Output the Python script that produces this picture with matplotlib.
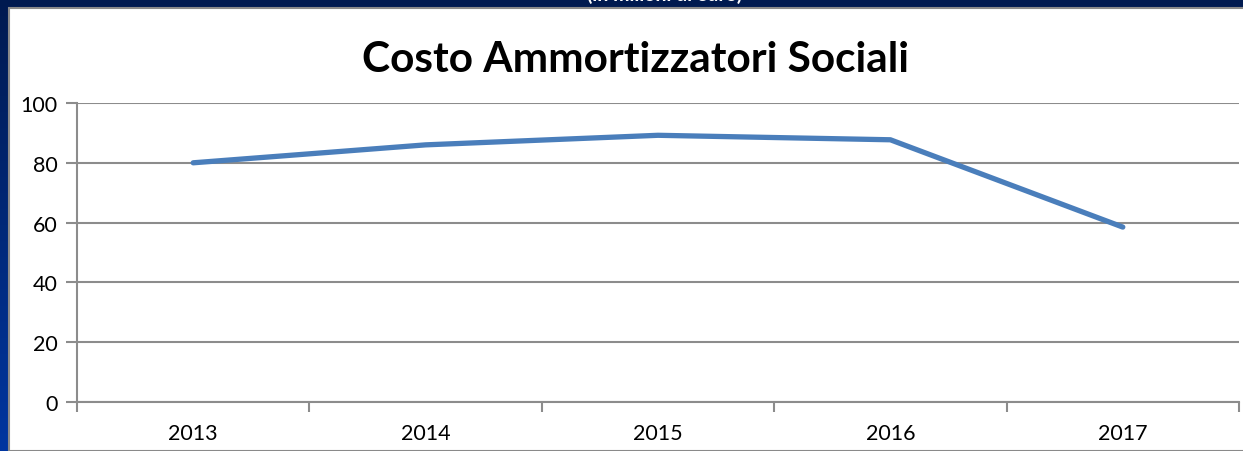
import numpy as np
import matplotlib
matplotlib.use("Agg")
from matplotlib import pyplot as plt
from matplotlib.patches import Rectangle

years = ["2013", "2014", "2015", "2016", "2017"]
costo = [80, 86, 89.2, 87.7, 58.5]
title = "Costo Ammortizzatori Sociali"
subtitle = "(in milioni di euro)"

W, H = 1243, 452
fig = plt.figure(figsize=(W / 100, H / 100), dpi=100)

# dark blue slide background with a vertical gradient
bg = fig.add_axes([0, 0, 1, 1])
grad = np.linspace(0, 1, 256).reshape(-1, 1)
cmap = matplotlib.colors.LinearSegmentedColormap.from_list("bg", ["#0036a0", "#001a50"])
bg.imshow(grad, aspect="auto", cmap=cmap, extent=[0, 1, 0, 1], origin="lower")
bg.set_xlim(0, 1)
bg.set_ylim(0, 1)
bg.axis("off")
bg.add_patch(Rectangle((9 / W, 0), 1, (H - 9) / H, facecolor="white",
                       edgecolor="#8a8a8a", linewidth=1.5))
# subtitle of the slide, cut off by the top edge as in the original
bg.text(665 / W, 1.012, subtitle, color="white", fontsize=14, ha="center",
        va="center", family="Lato", fontweight="bold", clip_on=False)

ax = fig.add_axes([77 / W, 49 / H, 1162 / W, 299 / H])
ax.set_facecolor("none")
x = np.arange(len(years))
ax.plot(x, costo, color="#4a7ebb", linewidth=3.8, solid_capstyle="round")

ax.set_xlim(-0.5, len(years) - 0.5)
ax.set_ylim(0, 100)
ax.set_yticks([0, 20, 40, 60, 80, 100])
ax.yaxis.grid(True, color="#8c8c8c", linewidth=1.5)
ax.set_axisbelow(True)
ax.set_xticks(x)
ax.set_xticklabels(years)
ax.set_xticks(np.arange(-0.5, len(years)), minor=True)
ax.tick_params(axis="x", which="major", length=0, pad=15, labelsize=15.5)
ax.tick_params(axis="x", which="minor", length=7, width=1.5, color="#8c8c8c")
ax.tick_params(axis="y", length=8, width=1.5, color="#8c8c8c", pad=6, labelsize=15.5)
for lab in ax.get_xticklabels() + ax.get_yticklabels():
    lab.set_family("Lato")
for s in ["top", "right"]:
    ax.spines[s].set_visible(False)
for s in ["left", "bottom"]:
    ax.spines[s].set_color("#8c8c8c")
    ax.spines[s].set_linewidth(1.5)

fig.text(636 / W, 1 - 60 / H, title, ha="center", va="center", fontsize=30.5,
         fontweight="bold", family="Lato")

fig.savefig("out.png", dpi=100)
